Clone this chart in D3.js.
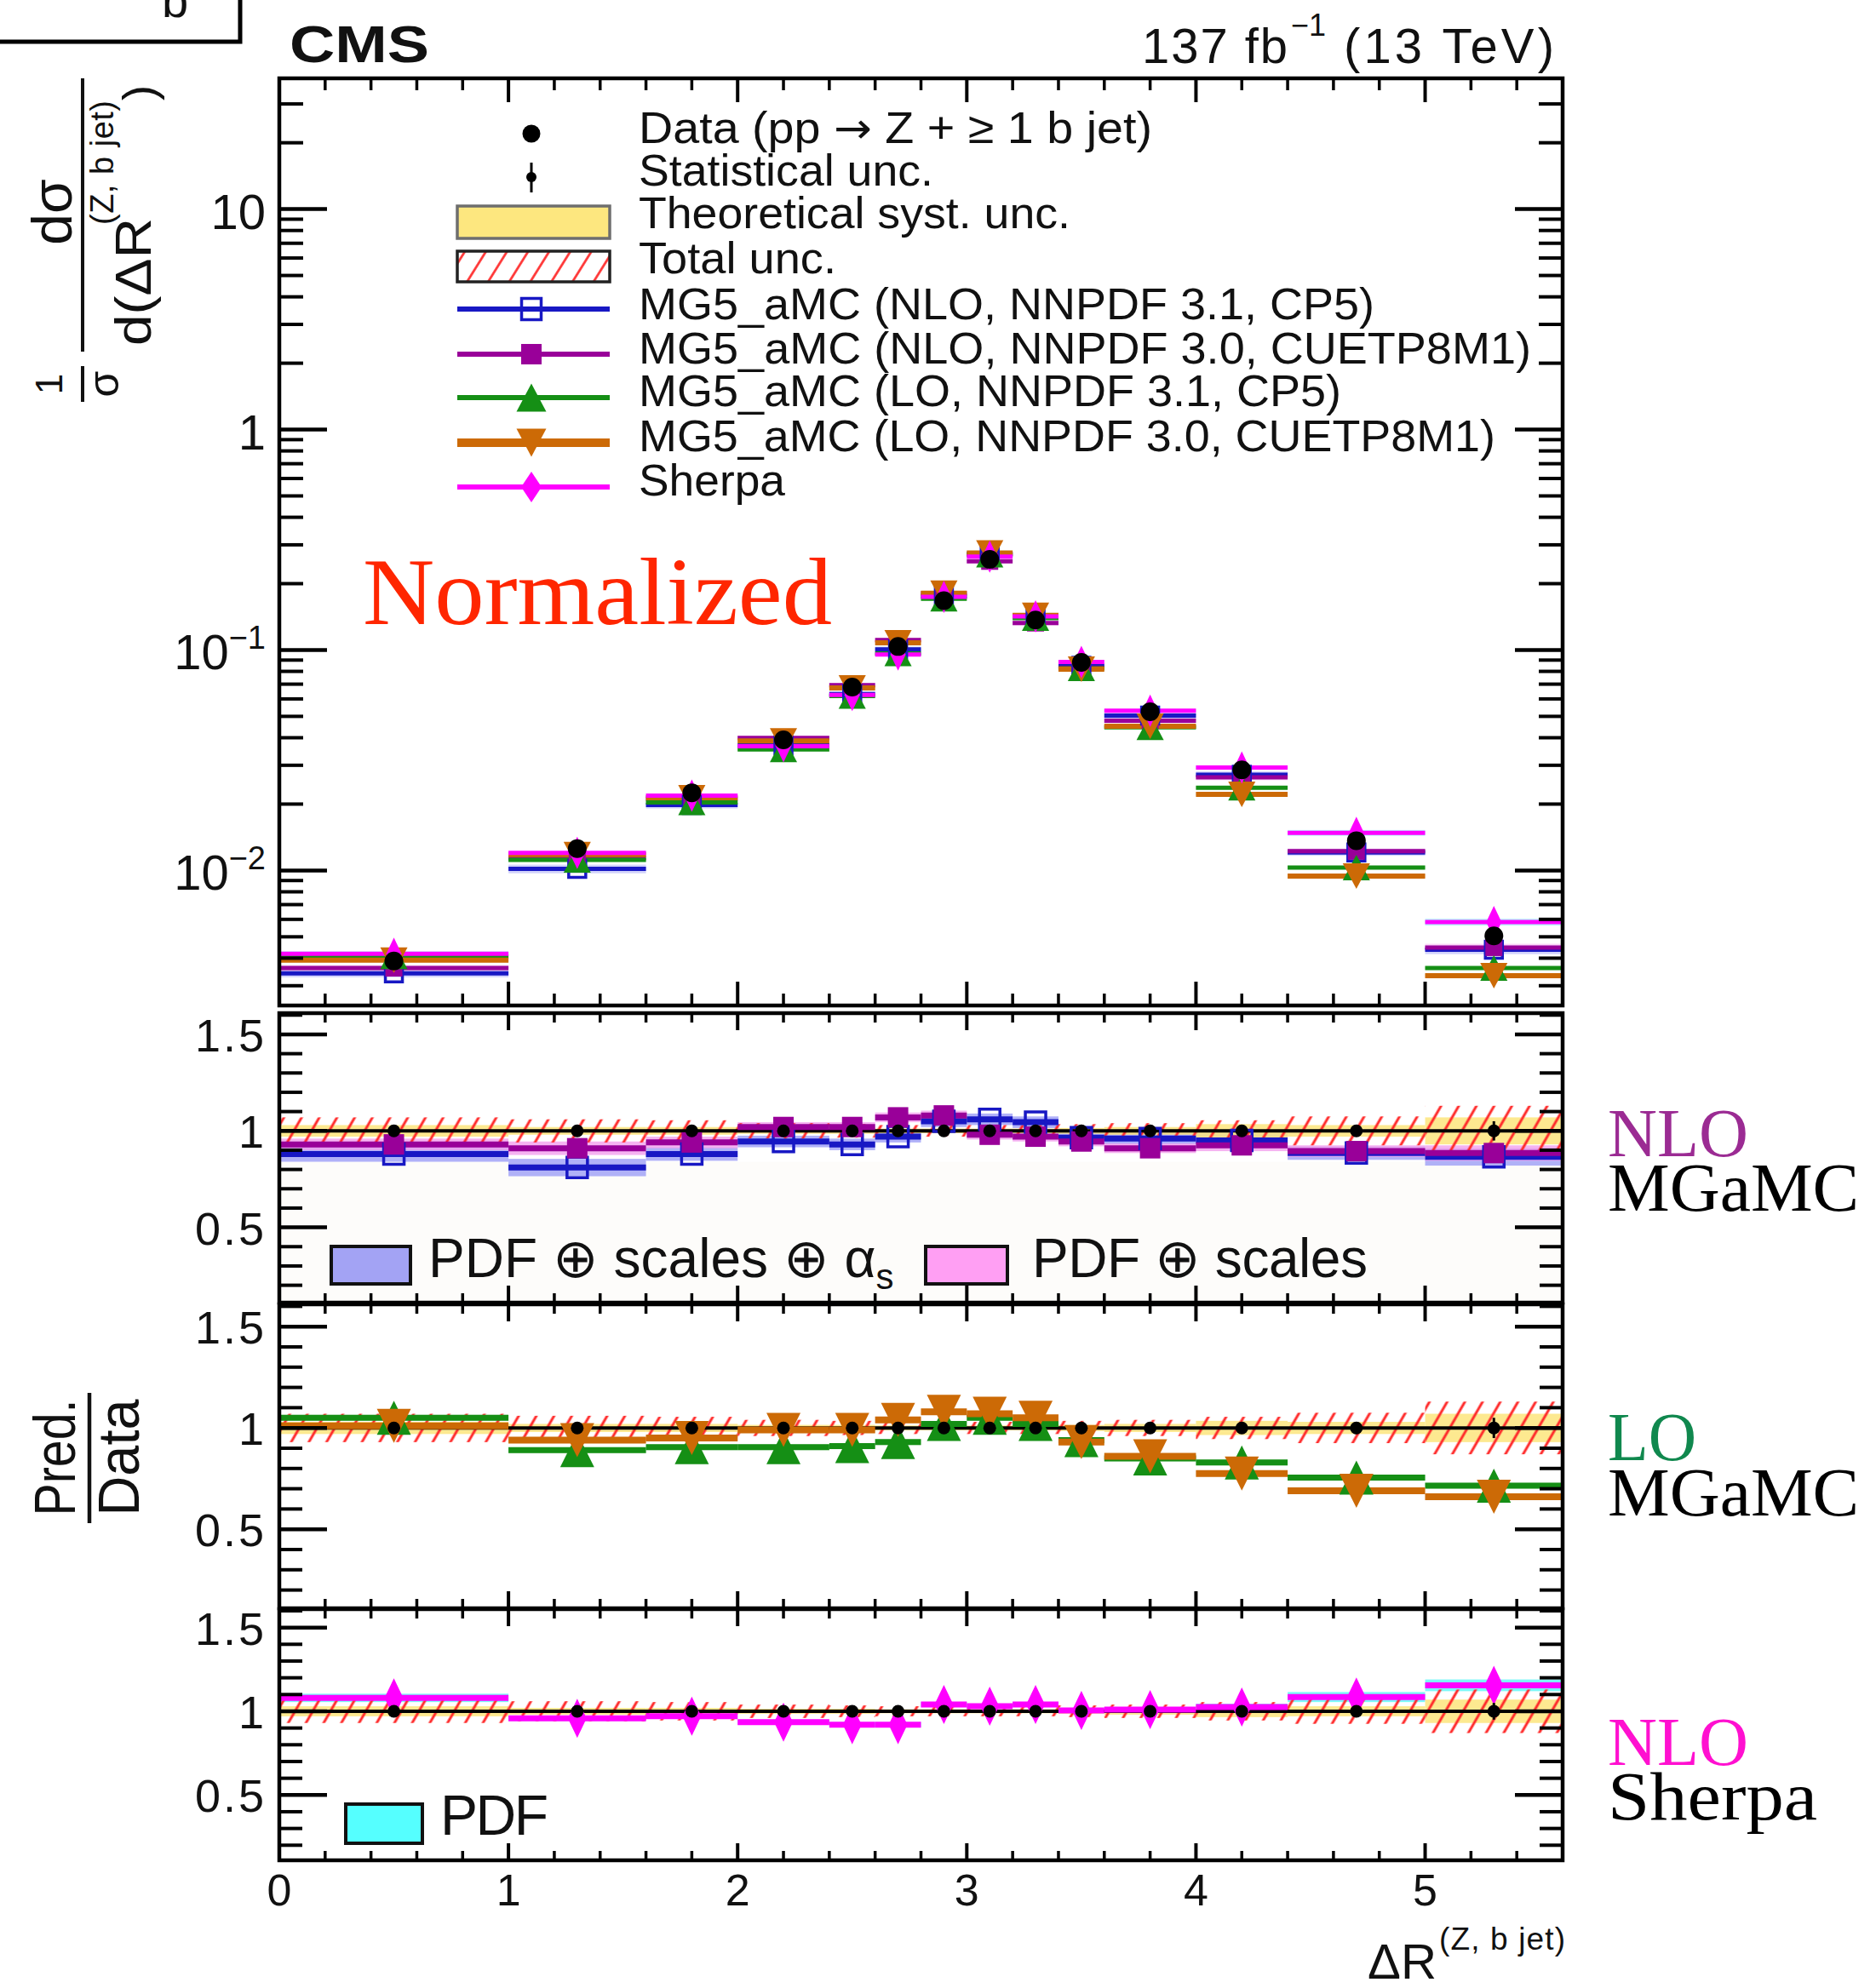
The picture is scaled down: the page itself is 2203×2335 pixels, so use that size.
<!DOCTYPE html>
<html>
<head>
<meta charset="utf-8">
<script src="https://cdn.jsdelivr.net/npm/d3@7"></script>
<style>
  html, body { margin: 0; padding: 0; background: #ffffff; }
  svg { display: block; }
  text { font-family: "Liberation Sans", Arial, Helvetica, sans-serif; fill: #111; }
  .serif { font-family: "Liberation Serif", "Times New Roman", serif; }
</style>
</head>
<body>
<svg id="chart" width="2203" height="2335"></svg>
<script>
// ---- Binning in ΔR(Z, b jet) ----
const binEdges = [0, 1, 1.6, 2.0, 2.4, 2.6, 2.8, 3.0, 3.2, 3.4, 3.6, 4.0, 4.4, 5.0, 5.6];

// ---- Normalised measured cross section (1/σ dσ/dΔR) ----
const dataValues = [0.00388, 0.01255, 0.0225, 0.0391, 0.0679, 0.1037, 0.1675, 0.2577, 0.1367, 0.0879, 0.0525, 0.0286, 0.01365, 0.00505];
// relative uncertainties of the measurement
const statUnc  = [0.025, 0.02, 0.018, 0.015, 0.015, 0.012, 0.01, 0.01, 0.012, 0.015, 0.018, 0.025, 0.03, 0.05];
const theoUnc  = [0.03, 0.02, 0.02, 0.015, 0.015, 0.012, 0.012, 0.012, 0.012, 0.015, 0.02, 0.035, 0.03, 0.07];
const totalUnc = [0.07, 0.06, 0.055, 0.04, 0.035, 0.03, 0.03, 0.03, 0.03, 0.035, 0.04, 0.055, 0.075, 0.13];

// ---- Predictions, expressed as Pred./Data ----
const ratioNLO31 = [0.88, 0.81, 0.88, 0.945, 0.93, 0.97, 1.05, 1.06, 1.045, 0.965, 0.96, 0.95, 0.885, 0.865];
const ratioNLO30 = [0.93, 0.91, 0.94, 1.02, 1.02, 1.07, 1.08, 0.98, 0.97, 0.945, 0.91, 0.925, 0.895, 0.885];
const ratioLO31  = [1.05, 0.89, 0.905, 0.905, 0.91, 0.93, 1.02, 1.05, 1.02, 0.94, 0.85, 0.83, 0.755, 0.715];
const ratioLO30  = [1.01, 0.94, 0.95, 0.99, 0.99, 1.04, 1.08, 1.07, 1.05, 0.93, 0.86, 0.775, 0.69, 0.66];
const ratioSherpa = [1.08, 0.958, 0.97, 0.935, 0.92, 0.92, 1.04, 1.03, 1.04, 1.005, 1.01, 1.025, 1.085, 1.155];

// theory bands (relative half widths)
const bandNLO31  = [0.04, 0.045, 0.035, 0.03, 0.03, 0.03, 0.03, 0.03, 0.03, 0.03, 0.03, 0.035, 0.035, 0.045];
const bandNLO30  = [0.03, 0.035, 0.03, 0.025, 0.025, 0.025, 0.025, 0.025, 0.025, 0.025, 0.025, 0.03, 0.03, 0.04];
const bandLO31   = [0.015, 0.015, 0.015, 0.015, 0.015, 0.015, 0.015, 0.015, 0.015, 0.015, 0.015, 0.015, 0.015, 0.015];
const bandLO30   = [0.015, 0.015, 0.015, 0.015, 0.015, 0.015, 0.015, 0.015, 0.015, 0.015, 0.015, 0.015, 0.015, 0.015];
const bandSherpa = [0.025, 0.015, 0.015, 0.015, 0.015, 0.015, 0.015, 0.015, 0.015, 0.015, 0.015, 0.02, 0.03, 0.035];

// ---- Tick labels ----
const xTickLabels = ["0", "1", "2", "3", "4", "5"];
const mainTickLabels = [
  { v: 10, base: "10", exp: "" },
  { v: 1, base: "1", exp: "" },
  { v: 0.1, base: "10", exp: "\u22121" },
  { v: 0.01, base: "10", exp: "\u22122" }
];
const ratioTickLabels = ["0.5", "1", "1.5"];

// ---- Legend texts ----
const legendTexts = [
  ["Data (pp ", "\u2192", " Z + \u2265 1 b jet)"],
  ["Statistical unc."],
  ["Theoretical syst. unc."],
  ["Total unc."],
  ["MG5_aMC (NLO, NNPDF 3.1, CP5)"],
  ["MG5_aMC (NLO, NNPDF 3.0, CUETP8M1)"],
  ["MG5_aMC (LO, NNPDF 3.1, CP5)"],
  ["MG5_aMC (LO, NNPDF 3.0, CUETP8M1)"],
  ["Sherpa"]
];

// ---- Model table built from the arrays above ----
const models = [
  { ratio: ratioNLO31, band: bandNLO31, color: "#1818c4", bandColor: "#9c9ef6", marker: "squareOpen", lw: 6 },
  { ratio: ratioNLO30, band: bandNLO30, color: "#990099", bandColor: "#f3a0ee", marker: "square", lw: 6 },
  { ratio: ratioLO31,  band: bandLO31,  color: "#158f15", bandColor: "#9fd79f", marker: "triUp", lw: 6 },
  { ratio: ratioLO30,  band: bandLO30,  color: "#cc6a06", bandColor: "#edc497", marker: "triDown", lw: 7 },
  { ratio: ratioSherpa, band: bandSherpa, color: "#ff00ff", bandColor: "#5cf7f7", marker: "diamond", lw: 6 }
];

const bins = d3.range(binEdges.length - 1).map(i => ({
  lo: binEdges[i], hi: binEdges[i + 1], c: (binEdges[i] + binEdges[i + 1]) / 2, i
}));

// ---- Geometry ----
const X0 = 328, X1 = 1835;
const x = d3.scaleLinear().domain([0, 5.6]).range([X0, X1]);
const mainTop = 92, mainBottom = 1181;
const yMain = d3.scaleLog().domain([0.00244, 39.2]).range([mainBottom, mainTop]);
const ratioDomain = [0.11, 1.61];
const panels = [
  { top: 1190, bottom: 1530, models: [0, 1] },
  { top: 1532, bottom: 1889, models: [2, 3] },
  { top: 1890, bottom: 2185, models: [4] }
];

const svg = d3.select("#chart");
const defs = svg.append("defs");

function hatch(id, spacing, angle, width) {
  const p = defs.append("pattern").attr("id", id)
    .attr("patternUnits", "userSpaceOnUse")
    .attr("width", spacing).attr("height", spacing)
    .attr("patternTransform", `rotate(${angle})`);
  p.append("line").attr("x1", spacing / 2).attr("x2", spacing / 2)
    .attr("y1", 0).attr("y2", spacing)
    .attr("stroke", "#ff2a2a").attr("stroke-width", width);
}
hatch("hatchBand", 18, 30, 3);
hatch("hatchLegend", 21, 32, 2.6);

function markerPath(type, s) {
  const w = s.w, h = s.h;
  switch (type) {
    case "square":
    case "squareOpen":
      return `M${-w / 2},${-h / 2}h${w}v${h}h${-w}Z`;
    case "triUp":
      return `M0,${-h / 2}L${w / 2},${h / 2}L${-w / 2},${h / 2}Z`;
    case "triDown":
      return `M0,${h / 2}L${w / 2},${-h / 2}L${-w / 2},${-h / 2}Z`;
    case "diamond":
      return `M0,${-h / 2}L${w / 2},0L0,${h / 2}L${-w / 2},0Z`;
  }
}
const mainMarkerSize = {
  square: { w: 20, h: 20 }, squareOpen: { w: 20, h: 20 },
  triUp: { w: 32, h: 30 }, triDown: { w: 32, h: 30 }, diamond: { w: 18, h: 38 }
};
const ratioMarkerSize = {
  square: { w: 24, h: 24 }, squareOpen: { w: 24, h: 24 },
  triUp: { w: 40, h: 40 }, triDown: { w: 40, h: 40 }, diamond: { w: 22, h: 46 }
};
const legendMarkerSize = {
  square: { w: 24, h: 24 }, squareOpen: { w: 23, h: 25 },
  triUp: { w: 35, h: 33 }, triDown: { w: 35, h: 33 }, diamond: { w: 24, h: 36 }
};

function drawMarker(g, type, color, size, cx, cy) {
  const open = type === "squareOpen";
  g.append("path")
    .attr("d", markerPath(type, size[type]))
    .attr("transform", `translate(${cx},${cy})`)
    .attr("fill", open ? "none" : color)
    .attr("stroke", color)
    .attr("stroke-width", open ? 3.5 : 0);
}

// ---- Tick helpers ----
function xTicks(g, yTop, yBot, majLen, minLen) {
  d3.range(1, 28).forEach(k => {
    const v = k / 5;
    const major = k % 5 === 0;
    const len = major ? majLen : minLen;
    const px = x(v);
    g.append("line").attr("x1", px).attr("x2", px).attr("y1", yTop).attr("y2", yTop + len)
      .attr("stroke", "#000").attr("stroke-width", major ? 4 : 3.5);
    g.append("line").attr("x1", px).attr("x2", px).attr("y1", yBot).attr("y2", yBot - len)
      .attr("stroke", "#000").attr("stroke-width", major ? 4 : 3.5);
  });
}
function yTickPair(g, py, len, major) {
  g.append("line").attr("x1", X0).attr("x2", X0 + len).attr("y1", py).attr("y2", py)
    .attr("stroke", "#000").attr("stroke-width", major ? 4.5 : 4);
  g.append("line").attr("x1", X1).attr("x2", X1 - len).attr("y1", py).attr("y2", py)
    .attr("stroke", "#000").attr("stroke-width", major ? 4.5 : 4);
}
function frame(g, top, bottom) {
  g.append("rect").attr("x", X0).attr("y", top).attr("width", X1 - X0).attr("height", bottom - top)
    .attr("fill", "none").attr("stroke", "#000").attr("stroke-width", 4.5);
}

// ================= Main distribution =================
const gMain = svg.append("g");
defs.append("clipPath").attr("id", "clipMain").append("rect")
  .attr("x", X0).attr("y", mainTop).attr("width", X1 - X0).attr("height", mainBottom - mainTop);
const gMainPlot = gMain.append("g").attr("clip-path", "url(#clipMain)");

// prediction bands
models.forEach(m => {
  gMainPlot.append("g").selectAll("rect").data(bins).join("rect")
    .attr("x", b => x(b.lo)).attr("width", b => x(b.hi) - x(b.lo))
    .attr("y", b => yMain(dataValues[b.i] * m.ratio[b.i] * (1 + m.band[b.i])))
    .attr("height", b => yMain(dataValues[b.i] * m.ratio[b.i] * (1 - m.band[b.i])) - yMain(dataValues[b.i] * m.ratio[b.i] * (1 + m.band[b.i])))
    .attr("fill", m.bandColor).attr("opacity", 0.45);
});
// prediction lines
models.forEach(m => {
  gMainPlot.append("g").selectAll("line").data(bins).join("line")
    .attr("x1", b => x(b.lo)).attr("x2", b => x(b.hi))
    .attr("y1", b => yMain(dataValues[b.i] * m.ratio[b.i]))
    .attr("y2", b => yMain(dataValues[b.i] * m.ratio[b.i]))
    .attr("stroke", m.color).attr("stroke-width", m.lw - 1);
});
// prediction markers
models.forEach(m => {
  bins.forEach(b => drawMarker(gMainPlot, m.marker, m.color, mainMarkerSize, x(b.c), yMain(dataValues[b.i] * m.ratio[b.i])));
});
// data with statistical error bars
gMainPlot.append("g").selectAll("line").data(bins).join("line")
  .attr("x1", b => x(b.c)).attr("x2", b => x(b.c))
  .attr("y1", b => yMain(dataValues[b.i] * (1 + statUnc[b.i])))
  .attr("y2", b => yMain(dataValues[b.i] * (1 - statUnc[b.i])))
  .attr("stroke", "#000").attr("stroke-width", 3);
gMainPlot.append("g").selectAll("circle").data(bins).join("circle")
  .attr("cx", b => x(b.c)).attr("cy", b => yMain(dataValues[b.i]))
  .attr("r", 11).attr("fill", "#000");

// axes of the main pad
xTicks(gMain, mainTop, mainBottom, 28, 14);
for (let d = -3; d <= 1; d++) {
  for (let k = 1; k <= 9; k++) {
    const v = k * Math.pow(10, d);
    if (v < yMain.domain()[0] || v > yMain.domain()[1]) continue;
    yTickPair(gMain, yMain(v), k === 1 ? 56 : 28, k === 1);
  }
}
frame(gMain, mainTop, mainBottom);

// tick labels of the main pad
mainTickLabels.forEach(t => {
  const py = yMain(t.v);
  const tx = gMain.append("text").attr("x", 312).attr("y", py + 23)
    .attr("text-anchor", "end").attr("font-size", 58);
  tx.append("tspan").text(t.base);
  if (t.exp) tx.append("tspan").attr("dy", -24).attr("font-size", 38).text(t.exp);
});

// legend of the main pad
const legX0 = 537, legX1 = 716, legXc = 624, legTextX = 750;
const legBaselines = [168, 218, 268, 321, 375, 427, 477, 530, 582];
const legLengths = [603, 346, 507, 232, 864, 1048, 825, 1006, 172];
const legLineY = [363, 416, 467, 520, 572];
const gLeg = svg.append("g");
gLeg.append("circle").attr("cx", legXc).attr("cy", 157).attr("r", 10.5).attr("fill", "#000");
gLeg.append("line").attr("x1", legXc).attr("x2", legXc).attr("y1", 191).attr("y2", 226)
  .attr("stroke", "#000").attr("stroke-width", 3);
gLeg.append("circle").attr("cx", legXc).attr("cy", 208).attr("r", 6).attr("fill", "#000");
gLeg.append("rect").attr("x", legX0).attr("y", 242).attr("width", legX1 - legX0).attr("height", 38)
  .attr("fill", "#fde77f").attr("stroke", "#6e6e6e").attr("stroke-width", 3.5);
gLeg.append("rect").attr("x", legX0).attr("y", 295).attr("width", legX1 - legX0).attr("height", 36)
  .attr("fill", "#fff").attr("stroke", "none");
gLeg.append("rect").attr("x", legX0).attr("y", 295).attr("width", legX1 - legX0).attr("height", 36)
  .attr("fill", "url(#hatchLegend)").attr("stroke", "#222").attr("stroke-width", 3.5);
models.forEach((m, k) => {
  const ly = legLineY[k];
  gLeg.append("line").attr("x1", legX0).attr("x2", legX1).attr("y1", ly).attr("y2", ly)
    .attr("stroke", m.color).attr("stroke-width", m.lw + (k === 3 ? 3 : 0));
  drawMarker(gLeg, m.marker, m.color, legendMarkerSize, legXc, ly);
});
legendTexts.forEach((parts, k) => {
  const t = gLeg.append("text").attr("x", legTextX).attr("y", legBaselines[k])
    .attr("font-size", 52).attr("textLength", legLengths[k]).attr("lengthAdjust", "spacingAndGlyphs");
  parts.forEach(s => {
    const ts = t.append("tspan").text(s);
    if (s === "\u2192") ts.style("font-family", "'DejaVu Sans', sans-serif").attr("font-size", 50);
  });
});

// "Normalized" note
svg.append("text").attr("class", "serif").attr("x", 426).attr("y", 733)
  .attr("font-size", 112).style("fill", "#ff2600")
  .attr("textLength", 551).attr("lengthAdjust", "spacingAndGlyphs")
  .text("Normalized");

// ================= Ratio pads =================
const sideLabels = [
  [{ t: "NLO", c: "#9b2b93", y: 1358, len: 165 }, { t: "MGaMC", c: "#000", y: 1422, len: 295 }],
  [{ t: "LO", c: "#10884e", y: 1715, len: 104 }, { t: "MGaMC", c: "#000", y: 1780, len: 295 }],
  [{ t: "NLO", c: "#ff10d0", y: 2073, len: 165 }, { t: "Sherpa", c: "#000", y: 2137, len: 246 }]
];

panels.forEach((p, pi) => {
  const y = d3.scaleLinear().domain(ratioDomain).range([p.bottom, p.top]);
  const g = svg.append("g");
  const clipId = `clipRatio${pi}`;
  defs.append("clipPath").attr("id", clipId).append("rect")
    .attr("x", X0).attr("y", p.top).attr("width", X1 - X0).attr("height", p.bottom - p.top);
  const gp = g.append("g").attr("clip-path", `url(#${clipId})`);

  if (pi === 0) {
    // faint background of the uncertainty legend
    gp.append("rect").attr("x", X0).attr("y", y(0.84)).attr("width", X1 - X0)
      .attr("height", p.bottom - y(0.84)).attr("fill", "#fdfcfa");
  }

  // prediction bands
  p.models.forEach(mi => {
    const m = models[mi];
    gp.append("g").selectAll("rect").data(bins).join("rect")
      .attr("x", b => x(b.lo)).attr("width", b => x(b.hi) - x(b.lo))
      .attr("y", b => y(m.ratio[b.i] + m.band[b.i]))
      .attr("height", b => y(m.ratio[b.i] - m.band[b.i]) - y(m.ratio[b.i] + m.band[b.i]))
      .attr("fill", m.bandColor).attr("opacity", pi === 1 ? 0.35 : 0.8);
  });
  // theoretical systematic band of the measurement
  gp.append("g").selectAll("rect").data(bins).join("rect")
    .attr("x", b => x(b.lo)).attr("width", b => x(b.hi) - x(b.lo))
    .attr("y", b => y(1 + theoUnc[b.i]))
    .attr("height", b => y(1 - theoUnc[b.i]) - y(1 + theoUnc[b.i]))
    .attr("fill", "#fde57c").attr("opacity", 0.85);
  // total uncertainty, hatched
  gp.append("g").selectAll("rect").data(bins).join("rect")
    .attr("x", b => x(b.lo)).attr("width", b => x(b.hi) - x(b.lo))
    .attr("y", b => y(1 + totalUnc[b.i]))
    .attr("height", b => y(1 - totalUnc[b.i]) - y(1 + totalUnc[b.i]))
    .attr("fill", "url(#hatchBand)");
  // reference line at unity
  gp.append("line").attr("x1", X0).attr("x2", X1).attr("y1", y(1)).attr("y2", y(1))
    .attr("stroke", "#000").attr("stroke-width", 4);
  // prediction lines and markers
  p.models.forEach(mi => {
    const m = models[mi];
    gp.append("g").selectAll("line").data(bins).join("line")
      .attr("x1", b => x(b.lo)).attr("x2", b => x(b.hi))
      .attr("y1", b => y(m.ratio[b.i])).attr("y2", b => y(m.ratio[b.i]))
      .attr("stroke", m.color).attr("stroke-width", m.lw + 1);
  });
  p.models.forEach(mi => {
    const m = models[mi];
    bins.forEach(b => drawMarker(gp, m.marker, m.color, ratioMarkerSize, x(b.c), y(m.ratio[b.i])));
  });
  // data points at unity with statistical uncertainty
  gp.append("g").selectAll("line").data(bins).join("line")
    .attr("x1", b => x(b.c)).attr("x2", b => x(b.c))
    .attr("y1", b => y(1 + statUnc[b.i])).attr("y2", b => y(1 - statUnc[b.i]))
    .attr("stroke", "#000").attr("stroke-width", 3);
  gp.append("g").selectAll("circle").data(bins).join("circle")
    .attr("cx", b => x(b.c)).attr("cy", y(1)).attr("r", 7.5).attr("fill", "#000");

  // axes
  xTicks(g, p.top, p.bottom, 20, 11);
  d3.range(2, 17).forEach(k => {
    const v = k / 10;
    if (v < ratioDomain[0] || v > ratioDomain[1]) return;
    const major = k % 5 === 0;
    yTickPair(g, y(v), major ? 56 : 27, major);
  });
  frame(g, p.top, p.bottom);
  ratioTickLabels.forEach(t => {
    g.append("text").attr("x", 313).attr("y", y(+t) + 20)
      .attr("text-anchor", "end").attr("font-size", 54).attr("letter-spacing", 3)
      .text(t);
  });

  // model family label on the right
  sideLabels[pi].forEach(s => {
    svg.append("text").attr("class", "serif").attr("x", 1888).attr("y", s.y)
      .attr("font-size", 80).style("fill", s.c)
      .attr("textLength", s.len).attr("lengthAdjust", "spacingAndGlyphs")
      .text(s.t);
  });
});

// legends inside the ratio pads
const gRL = svg.append("g");
gRL.append("rect").attr("x", 389).attr("y", 1464).attr("width", 93).attr("height", 44)
  .attr("fill", "#a3a3f4").attr("stroke", "#111").attr("stroke-width", 4);
const t1 = gRL.append("text").attr("x", 503).attr("y", 1500).attr("font-size", 64);
t1.append("tspan").text("PDF \u2295 scales \u2295 \u03b1");
t1.append("tspan").attr("dy", 14).attr("font-size", 42).text("s");
gRL.append("rect").attr("x", 1087).attr("y", 1464).attr("width", 96).attr("height", 44)
  .attr("fill", "#ff9ff3").attr("stroke", "#111").attr("stroke-width", 4);
gRL.append("text").attr("x", 1212).attr("y", 1500).attr("font-size", 64)
  .attr("textLength", 394).attr("lengthAdjust", "spacing")
  .text("PDF \u2295 scales");
gRL.append("rect").attr("x", 406).attr("y", 2119).attr("width", 90).attr("height", 46)
  .attr("fill", "#55ffff").attr("stroke", "#111").attr("stroke-width", 4);
gRL.append("text").attr("x", 517).attr("y", 2155).attr("font-size", 66)
  .attr("textLength", 127).attr("lengthAdjust", "spacing").text("PDF");

// x tick labels under the lowest pad
xTickLabels.forEach(t => {
  svg.append("text").attr("x", x(+t)).attr("y", 2238).attr("text-anchor", "middle")
    .attr("font-size", 52).text(t);
});

// x-axis title
const xt = svg.append("g");
xt.append("text").attr("x", 1606).attr("y", 2324).attr("font-size", 57)
  .attr("textLength", 81).attr("lengthAdjust", "spacingAndGlyphs").text("\u0394R");
xt.append("text").attr("x", 1690).attr("y", 2290).attr("font-size", 37)
  .attr("textLength", 148).attr("lengthAdjust", "spacing").text("(Z, b jet)");

// y-axis title of the main pad: 1/σ dσ/d(ΔR^(Z, b jet))
const yt = svg.append("g").attr("transform", "translate(97,470) rotate(-90)");
yt.append("line").attr("x1", 57).attr("x2", 378).attr("y1", 0).attr("y2", 0)
  .attr("stroke", "#111").attr("stroke-width", 4);
yt.append("line").attr("x1", -2).attr("x2", 40).attr("y1", 0).attr("y2", 0)
  .attr("stroke", "#111").attr("stroke-width", 4);
yt.append("text").attr("x", 19).attr("y", -24).attr("text-anchor", "middle").attr("font-size", 44).text("1");
yt.append("text").attr("x", 19).attr("y", 42).attr("text-anchor", "middle").attr("font-size", 50).text("\u03c3");
yt.append("text").attr("x", 221).attr("y", -13).attr("text-anchor", "middle").attr("font-size", 66).text("d\u03c3");
yt.append("text").attr("x", 64).attr("y", 80).attr("font-size", 60)
  .attr("textLength", 150).attr("lengthAdjust", "spacingAndGlyphs").text("d(\u0394R");
yt.append("text").attr("x", 206).attr("y", 36).attr("font-size", 38)
  .attr("textLength", 146).attr("lengthAdjust", "spacing").text("(Z, b jet)");
yt.append("text").attr("x", 352).attr("y", 85).attr("font-size", 54).text(")");

// y-axis title of the ratio pads
const rt = svg.append("g").attr("transform", "translate(105,1712) rotate(-90)");
rt.append("line").attr("x1", -77).attr("x2", 76).attr("y1", 0).attr("y2", 0)
  .attr("stroke", "#111").attr("stroke-width", 4.5);
rt.append("text").attr("x", 0).attr("y", -17).attr("text-anchor", "middle").attr("font-size", 68)
  .attr("textLength", 137).attr("lengthAdjust", "spacingAndGlyphs").text("Pred.");
rt.append("text").attr("x", 0).attr("y", 58).attr("text-anchor", "middle").attr("font-size", 68)
  .attr("textLength", 137).attr("lengthAdjust", "spacingAndGlyphs").text("Data");

// header
svg.append("text").attr("x", 340).attr("y", 73).attr("font-size", 62).attr("font-weight", "bold")
  .attr("textLength", 164).attr("lengthAdjust", "spacingAndGlyphs").text("CMS");
svg.append("text").attr("x", 1341).attr("y", 74).attr("font-size", 58)
  .attr("textLength", 171).attr("lengthAdjust", "spacing").text("137 fb");
svg.append("text").attr("x", 1516).attr("y", 42).attr("font-size", 36).text("\u22121");
svg.append("text").attr("x", 1578).attr("y", 74).attr("font-size", 58)
  .attr("textLength", 247).attr("lengthAdjust", "spacing").text("(13 TeV)");

// panel-tag box in the top-left corner
svg.append("path").attr("d", "M0,49H282V0").attr("fill", "none")
  .attr("stroke", "#000").attr("stroke-width", 5);
svg.append("text").attr("x", 190).attr("y", 20).attr("font-size", 56).text("b");
</script>
</body>
</html>
